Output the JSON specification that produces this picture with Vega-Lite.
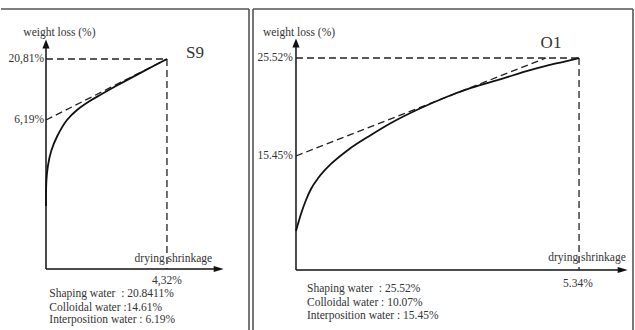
{
  "$schema": "https://vega.github.io/schema/vega-lite/v6.json",
  "autosize": {"type": "pad"},
  "padding": {"top": 8, "left": 0, "right": 0, "bottom": 0},
  "background": "white",
  "spacing": 4,
  "bounds": "flush",
  "config": {
    "view": {"stroke": null},
    "text": {"font": "Liberation Serif", "fontSize": 11.5, "color": "#333", "baseline": "middle"}
  },
  "datasets": {
    "s9_curve": [
      {"shrinkage": 4.32, "loss": 20.81},
      {"shrinkage": 3.393, "loss": 17.56},
      {"shrinkage": 2.5, "loss": 14.34},
      {"shrinkage": 1.964, "loss": 12.31},
      {"shrinkage": 1.536, "loss": 10.63},
      {"shrinkage": 1.107, "loss": 8.59},
      {"shrinkage": 0.75, "loss": 6.19},
      {"shrinkage": 0.404, "loss": 2.36},
      {"shrinkage": 0.186, "loss": -1.24},
      {"shrinkage": 0.068, "loss": -4.83},
      {"shrinkage": 0.014, "loss": -8.43},
      {"shrinkage": 0, "loss": -14.42}
    ],
    "o1_curve": [
      {"shrinkage": 0, "loss": 7.74},
      {"shrinkage": 0.094, "loss": 9.49},
      {"shrinkage": 0.189, "loss": 10.93},
      {"shrinkage": 0.283, "loss": 12.06},
      {"shrinkage": 0.434, "loss": 13.29},
      {"shrinkage": 0.66, "loss": 14.63},
      {"shrinkage": 0.981, "loss": 16.07},
      {"shrinkage": 1.415, "loss": 17.61},
      {"shrinkage": 1.792, "loss": 18.84},
      {"shrinkage": 2.358, "loss": 20.38},
      {"shrinkage": 2.792, "loss": 21.41},
      {"shrinkage": 3.302, "loss": 22.44},
      {"shrinkage": 3.868, "loss": 23.36},
      {"shrinkage": 4.434, "loss": 24.29},
      {"shrinkage": 4.906, "loss": 24.96},
      {"shrinkage": 5.34, "loss": 25.52}
    ],
    "s9_ticks": [
      {"shrinkage": -0.07, "loss": 20.81, "label": "20,81%"},
      {"shrinkage": -0.07, "loss": 6.19, "label": "6,19%"}
    ],
    "s9_centered": [
      {"shrinkage": 0.48, "loss": 27.05, "label": "weight loss (%)", "kind": "axis"},
      {"shrinkage": 4.55, "loss": -27.12, "label": "drying shrinkage", "kind": "axis"},
      {"shrinkage": 4.32, "loss": -32.4, "label": "4,32%", "kind": "axis"},
      {"shrinkage": 5.32, "loss": 22.25, "label": "S9", "kind": "sample"}
    ],
    "s9_notes": [
      {"shrinkage": 0.118, "loss": -35.58, "label": "Shaping water \u00a0: 20.8411%"},
      {"shrinkage": 0.118, "loss": -38.8, "label": "Colloidal water :14.61%"},
      {"shrinkage": 0.118, "loss": -41.82, "label": "Interposition water : 6.19%"}
    ],
    "o1_ticks": [
      {"shrinkage": -0.057, "loss": 25.52, "label": "25.52%"},
      {"shrinkage": -0.057, "loss": 15.45, "label": "15.45%"}
    ],
    "o1_centered": [
      {"shrinkage": 0.057, "loss": 28.09, "label": "weight loss (%)", "kind": "axis"},
      {"shrinkage": 5.49, "loss": 4.97, "label": "drying shrinkage", "kind": "axis"},
      {"shrinkage": 5.32, "loss": 2.3, "label": "5.34%", "kind": "axis"},
      {"shrinkage": 4.811, "loss": 27.06, "label": "O1", "kind": "sample"}
    ],
    "o1_notes": [
      {"shrinkage": 0.2075, "loss": 1.785, "label": "Shaping water \u00a0: 25.52%"},
      {"shrinkage": 0.2075, "loss": 0.345, "label": "Colloidal water : 10.07%"},
      {"shrinkage": 0.2075, "loss": -0.99, "label": "Interposition water : 15.45%"}
    ]
  },
  "hconcat": [
    {
      "width": 248,
      "height": 330,
      "layer": [
        {
          "data": {"values": [{}]},
          "mark": {"type": "rule", "color": "#555", "strokeWidth": 1.6},
          "encoding": {
            "y": {"datum": 32.8, "type": "quantitative", "scale": {"domain": [-46.3, 32.8], "nice": false, "zero": false}, "axis": null}
          }
        },
        {
          "data": {"values": [{}]},
          "mark": {"type": "rule", "color": "#555", "strokeWidth": 1.6},
          "encoding": {
            "x": {"datum": 7.25, "type": "quantitative", "scale": {"domain": [-1.607, 7.25], "nice": false, "zero": false}, "axis": null}
          }
        },
        {
          "data": {"values": [{}]},
          "mark": {"type": "rule", "color": "#111", "strokeWidth": 1.5},
          "encoding": {
            "x": {"datum": 0, "type": "quantitative", "scale": {"domain": [-1.607, 7.25], "nice": false, "zero": false}, "axis": null},
            "y": {"datum": -29.52, "type": "quantitative", "scale": {"domain": [-46.3, 32.8], "nice": false, "zero": false}, "axis": null},
            "y2": {"datum": 24.41}
          }
        },
        {
          "data": {"values": [{}]},
          "mark": {"type": "rule", "color": "#111", "strokeWidth": 1.5},
          "encoding": {
            "x": {"datum": 0, "type": "quantitative", "scale": {"domain": [-1.607, 7.25], "nice": false, "zero": false}, "axis": null},
            "x2": {"datum": 6.168},
            "y": {"datum": -29.52, "type": "quantitative", "scale": {"domain": [-46.3, 32.8], "nice": false, "zero": false}, "axis": null}
          }
        },
        {
          "data": {"values": [{}]},
          "mark": {"type": "point", "filled": true, "color": "#111", "opacity": 1, "size": 81, "shape": "M0,-1L-0.8,1L0.8,1Z"},
          "encoding": {
            "x": {"datum": 0, "type": "quantitative", "scale": {"domain": [-1.607, 7.25], "nice": false, "zero": false}, "axis": null},
            "y": {"datum": 24.41, "type": "quantitative", "scale": {"domain": [-46.3, 32.8], "nice": false, "zero": false}, "axis": null}
          }
        },
        {
          "data": {"values": [{}]},
          "mark": {"type": "point", "filled": true, "color": "#111", "opacity": 1, "size": 100, "shape": "M1,0L-1,-0.6L-1,0.6Z"},
          "encoding": {
            "x": {"datum": 6.168, "type": "quantitative", "scale": {"domain": [-1.607, 7.25], "nice": false, "zero": false}, "axis": null},
            "y": {"datum": -29.52, "type": "quantitative", "scale": {"domain": [-46.3, 32.8], "nice": false, "zero": false}, "axis": null}
          }
        },
        {
          "data": {"values": [{}]},
          "mark": {"type": "rule", "color": "#222", "strokeWidth": 1.3, "strokeDash": [7, 4]},
          "encoding": {
            "x": {"datum": 0, "type": "quantitative", "scale": {"domain": [-1.607, 7.25], "nice": false, "zero": false}, "axis": null},
            "x2": {"datum": 4.32},
            "y": {"datum": 20.81, "type": "quantitative", "scale": {"domain": [-46.3, 32.8], "nice": false, "zero": false}, "axis": null}
          }
        },
        {
          "data": {"values": [{}]},
          "mark": {"type": "rule", "color": "#222", "strokeWidth": 1.3, "strokeDash": [7, 4]},
          "encoding": {
            "x": {"datum": 4.32, "type": "quantitative", "scale": {"domain": [-1.607, 7.25], "nice": false, "zero": false}, "axis": null},
            "y": {"datum": 20.81, "type": "quantitative", "scale": {"domain": [-46.3, 32.8], "nice": false, "zero": false}, "axis": null},
            "y2": {"datum": -29.52}
          }
        },
        {
          "data": {"values": [{}]},
          "mark": {"type": "rule", "color": "#222", "strokeWidth": 1.3, "strokeDash": [7, 4]},
          "encoding": {
            "x": {"datum": 0, "type": "quantitative", "scale": {"domain": [-1.607, 7.25], "nice": false, "zero": false}, "axis": null},
            "x2": {"datum": 4.32},
            "y": {"datum": 6.19, "type": "quantitative", "scale": {"domain": [-46.3, 32.8], "nice": false, "zero": false}, "axis": null},
            "y2": {"datum": 20.81}
          }
        },
        {
          "data": {"name": "s9_curve"},
          "mark": {"type": "line", "color": "#111", "strokeWidth": 1.8, "interpolate": "catmull-rom"},
          "encoding": {
            "x": {"field": "shrinkage", "type": "quantitative", "scale": {"domain": [-1.607, 7.25], "nice": false, "zero": false}, "axis": null},
            "y": {"field": "loss", "type": "quantitative", "scale": {"domain": [-46.3, 32.8], "nice": false, "zero": false}, "axis": null}
          }
        },
        {
          "data": {"name": "s9_ticks"},
          "mark": {"type": "text", "align": "right", "font": "Liberation Serif"},
          "encoding": {
            "x": {"field": "shrinkage", "type": "quantitative", "scale": {"domain": [-1.607, 7.25], "nice": false, "zero": false}, "axis": null},
            "y": {"field": "loss", "type": "quantitative", "scale": {"domain": [-46.3, 32.8], "nice": false, "zero": false}, "axis": null},
            "text": {"field": "label"}
          }
        },
        {
          "data": {"name": "s9_centered"},
          "mark": {"type": "text", "align": "center", "font": "Liberation Serif"},
          "encoding": {
            "x": {"field": "shrinkage", "type": "quantitative", "scale": {"domain": [-1.607, 7.25], "nice": false, "zero": false}, "axis": null},
            "y": {"field": "loss", "type": "quantitative", "scale": {"domain": [-46.3, 32.8], "nice": false, "zero": false}, "axis": null},
            "text": {"field": "label"},
            "size": {"field": "kind", "type": "nominal", "scale": {"domain": ["axis", "sample"], "range": [11.5, 17]}, "legend": null}
          }
        },
        {
          "data": {"name": "s9_notes"},
          "mark": {"type": "text", "align": "left", "font": "Liberation Serif"},
          "encoding": {
            "x": {"field": "shrinkage", "type": "quantitative", "scale": {"domain": [-1.607, 7.25], "nice": false, "zero": false}, "axis": null},
            "y": {"field": "loss", "type": "quantitative", "scale": {"domain": [-46.3, 32.8], "nice": false, "zero": false}, "axis": null},
            "text": {"field": "label"}
          }
        }
      ]
    },
    {
      "width": 380,
      "height": 330,
      "layer": [
        {
          "data": {"values": [{}]},
          "mark": {"type": "rule", "color": "#555", "strokeWidth": 1.6},
          "encoding": {
            "y": {"datum": 30.555, "type": "quantitative", "scale": {"domain": [-3.354, 30.555], "nice": false, "zero": false}, "axis": null}
          }
        },
        {
          "data": {"values": [{"edge": -0.811}, {"edge": 6.358}]},
          "mark": {"type": "rule", "color": "#555", "strokeWidth": 1.6},
          "encoding": {
            "x": {"field": "edge", "type": "quantitative", "scale": {"domain": [-0.811, 6.358], "nice": false, "zero": false}, "axis": null}
          }
        },
        {
          "data": {"values": [{}]},
          "mark": {"type": "rule", "color": "#111", "strokeWidth": 1.5},
          "encoding": {
            "x": {"datum": 0, "type": "quantitative", "scale": {"domain": [-0.811, 6.358], "nice": false, "zero": false}, "axis": null},
            "y": {"datum": 3.737, "type": "quantitative", "scale": {"domain": [-3.354, 30.555], "nice": false, "zero": false}, "axis": null},
            "y2": {"datum": 27.06}
          }
        },
        {
          "data": {"values": [{}]},
          "mark": {"type": "rule", "color": "#111", "strokeWidth": 1.5},
          "encoding": {
            "x": {"datum": 0, "type": "quantitative", "scale": {"domain": [-0.811, 6.358], "nice": false, "zero": false}, "axis": null},
            "x2": {"datum": 6.164},
            "y": {"datum": 3.737, "type": "quantitative", "scale": {"domain": [-3.354, 30.555], "nice": false, "zero": false}, "axis": null}
          }
        },
        {
          "data": {"values": [{}]},
          "mark": {"type": "point", "filled": true, "color": "#111", "opacity": 1, "size": 81, "shape": "M0,-1L-0.8,1L0.8,1Z"},
          "encoding": {
            "x": {"datum": 0, "type": "quantitative", "scale": {"domain": [-0.811, 6.358], "nice": false, "zero": false}, "axis": null},
            "y": {"datum": 27.06, "type": "quantitative", "scale": {"domain": [-3.354, 30.555], "nice": false, "zero": false}, "axis": null}
          }
        },
        {
          "data": {"values": [{}]},
          "mark": {"type": "point", "filled": true, "color": "#111", "opacity": 1, "size": 100, "shape": "M1,0L-1,-0.6L-1,0.6Z"},
          "encoding": {
            "x": {"datum": 6.164, "type": "quantitative", "scale": {"domain": [-0.811, 6.358], "nice": false, "zero": false}, "axis": null},
            "y": {"datum": 3.737, "type": "quantitative", "scale": {"domain": [-3.354, 30.555], "nice": false, "zero": false}, "axis": null}
          }
        },
        {
          "data": {"values": [{}]},
          "mark": {"type": "rule", "color": "#222", "strokeWidth": 1.3, "strokeDash": [7, 4]},
          "encoding": {
            "x": {"datum": 0, "type": "quantitative", "scale": {"domain": [-0.811, 6.358], "nice": false, "zero": false}, "axis": null},
            "x2": {"datum": 5.34},
            "y": {"datum": 25.52, "type": "quantitative", "scale": {"domain": [-3.354, 30.555], "nice": false, "zero": false}, "axis": null}
          }
        },
        {
          "data": {"values": [{}]},
          "mark": {"type": "rule", "color": "#222", "strokeWidth": 1.3, "strokeDash": [7, 4]},
          "encoding": {
            "x": {"datum": 5.34, "type": "quantitative", "scale": {"domain": [-0.811, 6.358], "nice": false, "zero": false}, "axis": null},
            "y": {"datum": 25.52, "type": "quantitative", "scale": {"domain": [-3.354, 30.555], "nice": false, "zero": false}, "axis": null},
            "y2": {"datum": 3.737}
          }
        },
        {
          "data": {"values": [{}]},
          "mark": {"type": "rule", "color": "#222", "strokeWidth": 1.3, "strokeDash": [7, 4]},
          "encoding": {
            "x": {"datum": 0, "type": "quantitative", "scale": {"domain": [-0.811, 6.358], "nice": false, "zero": false}, "axis": null},
            "x2": {"datum": 4.717},
            "y": {"datum": 15.45, "type": "quantitative", "scale": {"domain": [-3.354, 30.555], "nice": false, "zero": false}, "axis": null},
            "y2": {"datum": 25.52}
          }
        },
        {
          "data": {"name": "o1_curve"},
          "mark": {"type": "line", "color": "#111", "strokeWidth": 1.8, "interpolate": "monotone"},
          "encoding": {
            "x": {"field": "shrinkage", "type": "quantitative", "scale": {"domain": [-0.811, 6.358], "nice": false, "zero": false}, "axis": null},
            "y": {"field": "loss", "type": "quantitative", "scale": {"domain": [-3.354, 30.555], "nice": false, "zero": false}, "axis": null}
          }
        },
        {
          "data": {"name": "o1_ticks"},
          "mark": {"type": "text", "align": "right", "font": "Liberation Serif"},
          "encoding": {
            "x": {"field": "shrinkage", "type": "quantitative", "scale": {"domain": [-0.811, 6.358], "nice": false, "zero": false}, "axis": null},
            "y": {"field": "loss", "type": "quantitative", "scale": {"domain": [-3.354, 30.555], "nice": false, "zero": false}, "axis": null},
            "text": {"field": "label"}
          }
        },
        {
          "data": {"name": "o1_centered"},
          "mark": {"type": "text", "align": "center", "font": "Liberation Serif"},
          "encoding": {
            "x": {"field": "shrinkage", "type": "quantitative", "scale": {"domain": [-0.811, 6.358], "nice": false, "zero": false}, "axis": null},
            "y": {"field": "loss", "type": "quantitative", "scale": {"domain": [-3.354, 30.555], "nice": false, "zero": false}, "axis": null},
            "text": {"field": "label"},
            "size": {"field": "kind", "type": "nominal", "scale": {"domain": ["axis", "sample"], "range": [11.5, 17]}, "legend": null}
          }
        },
        {
          "data": {"name": "o1_notes"},
          "mark": {"type": "text", "align": "left", "font": "Liberation Serif"},
          "encoding": {
            "x": {"field": "shrinkage", "type": "quantitative", "scale": {"domain": [-0.811, 6.358], "nice": false, "zero": false}, "axis": null},
            "y": {"field": "loss", "type": "quantitative", "scale": {"domain": [-3.354, 30.555], "nice": false, "zero": false}, "axis": null},
            "text": {"field": "label"}
          }
        }
      ]
    }
  ]
}
